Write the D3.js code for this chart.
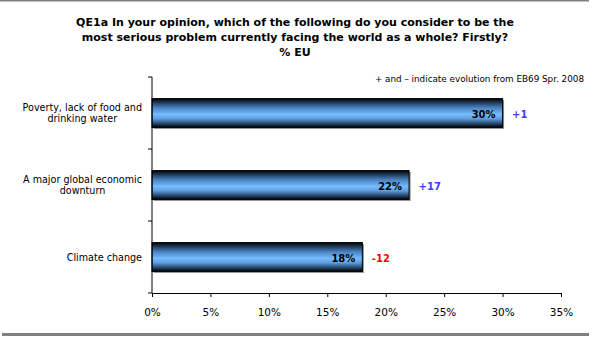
<!DOCTYPE html>
<html>
<head>
<meta charset="utf-8">
<script src="https://cdn.jsdelivr.net/npm/d3@7"></script>
<style>
  html, body { margin: 0; padding: 0; background: #fff; }
  svg { display: block; }
  text { font-family: "DejaVu Sans", sans-serif; }
</style>
</head>
<body>
<svg id="chart" width="593" height="338"></svg>
<script>
// Survey results (% EU) and change in points since EB69 Spr. 2008
const categories = [
  "Poverty, lack of food and\ndrinking water",
  "A major global economic\ndownturn",
  "Climate change"
];
const values = [30, 22, 18];
const changes = [1, 17, -12];
const tickValues = [0, 5, 10, 15, 20, 25, 30, 35];
const titleLines = [
  "QE1a In your opinion, which of the following do you consider to be the",
  "most serious problem currently facing the world as a whole? Firstly?",
  "% EU"
];
const note = "+ and \u2013 indicate evolution from EB69 Spr. 2008";

const W = 593, H = 338;
const margin = { top: 77, right: 32, bottom: 45, left: 152 };

const svg = d3.select("#chart");

// frame lines
svg.append("rect").attr("x", 0).attr("y", 0).attr("width", 589).attr("height", 1.5).attr("fill", "#808080");
svg.append("rect").attr("x", 2).attr("y", 333).attr("width", 587).attr("height", 3).attr("fill", "#808080");

// bar gradient: dark edges, light blue centre
const defs = svg.append("defs");
const grad = defs.append("linearGradient").attr("id", "barGrad")
  .attr("x1", 0).attr("y1", 0).attr("x2", 0).attr("y2", 1);
[
  [0, "#000000"], [0.12, "#1c3350"], [0.32, "#4a82bf"], [0.55, "#76bcff"],
  [0.70, "#5d9de0"], [0.86, "#2a4b70"], [1, "#000000"]
].forEach(([o, c]) => grad.append("stop").attr("offset", o).attr("stop-color", c));

const x = d3.scaleLinear().domain([0, 35]).range([margin.left, W - margin.right]);
const y = d3.scaleBand().domain(categories).range([margin.top, H - margin.bottom])
  .paddingInner(0.6).paddingOuter(0.3);

// title
svg.append("g").selectAll("text").data(titleLines).join("text")
  .attr("x", 295).attr("y", (d, i) => 25.5 + i * 15.2)
  .attr("text-anchor", "middle")
  .attr("font-size", 11).attr("font-weight", "bold").attr("fill", "#000")
  .text(d => d);

svg.append("text").attr("x", 584).attr("y", 82).attr("text-anchor", "end")
  .attr("font-family", "'DejaVu Sans Condensed', 'DejaVu Sans', sans-serif")
  .attr("font-size", 8.8).attr("fill", "#000").text(note);

// bars with drop shadow
const rows = categories.map((c, i) => ({ c, v: values[i], d: changes[i] }));
const g = svg.append("g");
g.selectAll("rect.shadow").data(rows).join("rect").attr("class", "shadow")
  .attr("x", x(0) + 1.5).attr("y", d => y(d.c) + 1.5)
  .attr("width", d => x(d.v) - x(0)).attr("height", y.bandwidth())
  .attr("fill", "#8c8c8c");
g.selectAll("rect.bar").data(rows).join("rect").attr("class", "bar")
  .attr("x", x(0)).attr("y", d => y(d.c))
  .attr("width", d => x(d.v) - x(0)).attr("height", y.bandwidth())
  .attr("fill", "url(#barGrad)").attr("stroke", "#000").attr("stroke-width", 1);

// value labels inside bars
g.selectAll("text.val").data(rows).join("text").attr("class", "val")
  .attr("x", d => x(d.v) - 7).attr("y", d => y(d.c) + y.bandwidth() / 2 + 4.5)
  .attr("text-anchor", "end").attr("font-size", 10).attr("font-weight", "bold")
  .attr("fill", "#000").text(d => d.v + "%");

// evolution labels
g.selectAll("text.chg").data(rows).join("text").attr("class", "chg")
  .attr("x", d => x(d.v) + 9.5).attr("y", d => y(d.c) + y.bandwidth() / 2 + 4.5)
  .attr("font-size", 10).attr("font-weight", "bold")
  .attr("fill", d => d.d >= 0 ? "#3d3dff" : "#ff0000")
  .text(d => (d.d > 0 ? "+" : "") + d.d);

// x axis
const xAxis = svg.append("g").attr("transform", `translate(0,${H - margin.bottom})`)
  .call(d3.axisBottom(x).tickValues(tickValues).tickFormat(d => d + "%").tickSize(4).tickSizeOuter(0));
xAxis.select(".domain").attr("stroke", "#000");
xAxis.selectAll("text").attr("font-size", 10.5).attr("dy", 0).attr("y", 22.5)
  .attr("font-family", "'DejaVu Sans', sans-serif").attr("fill", "#000");

// y axis with ticks at the band boundaries
const yAxisG = svg.append("g");
yAxisG.append("line").attr("x1", x(0)).attr("x2", x(0))
  .attr("y1", margin.top).attr("y2", H - margin.bottom).attr("stroke", "#000");
const edges = d3.range(categories.length + 1).map(i => margin.top + i * y.step());
yAxisG.selectAll("line.tk").data(edges).join("line").attr("class", "tk")
  .attr("x1", x(0) - 4).attr("x2", x(0)).attr("y1", d => d).attr("y2", d => d)
  .attr("stroke", "#000");

// category labels: wrapped lines centred in a block right-aligned near the axis
const labelRight = 142;
rows.forEach(r => {
  const lines = r.c.split("\n");
  const cy = y(r.c) + y.bandwidth() / 2;
  const grp = svg.append("g");
  const ts = grp.selectAll("text").data(lines).join("text")
    .attr("y", (d, i) => cy + 3.5 + (i - (lines.length - 1) / 2) * 11)
    .attr("text-anchor", "middle").attr("font-size", 9.6).attr("fill", "#000")
    .text(d => d);
  const maxW = d3.max(ts.nodes(), n => n.getComputedTextLength());
  ts.attr("x", labelRight - maxW / 2);
});
</script>
</body>
</html>
